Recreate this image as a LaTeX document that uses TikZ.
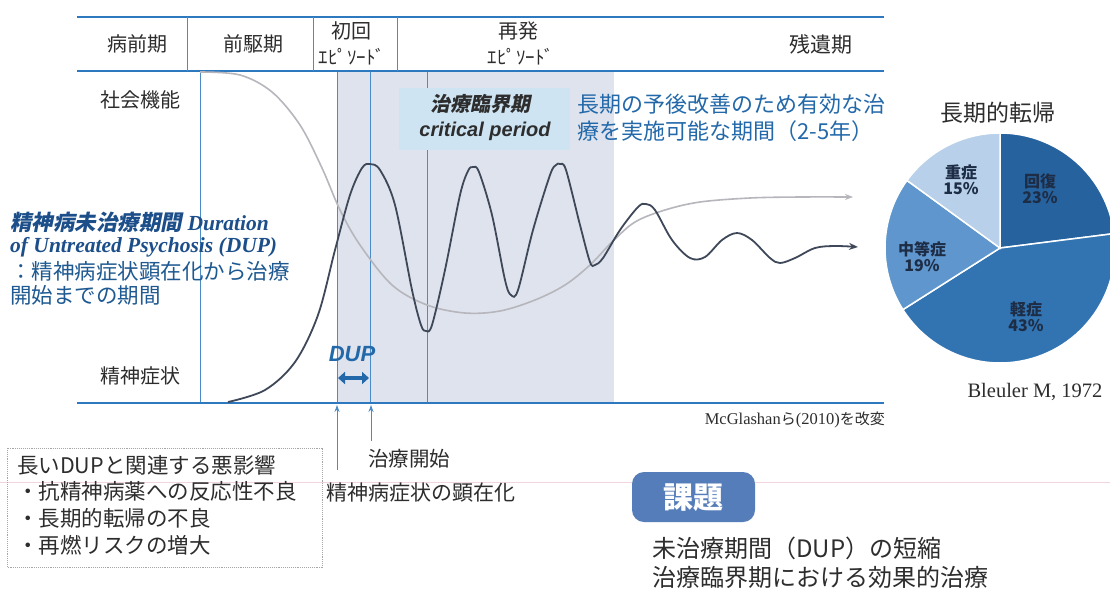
\documentclass[tikz,border=0pt]{standalone}
\usepackage{fontspec}
\setmainfont{Noto Sans CJK JP}
\newfontfamily\jpbi{Noto Sans CJK JP}[FakeSlant=0.2]
\newfontfamily\tms{Liberation Serif}
\newfontfamily\arl{Liberation Sans}
\usetikzlibrary{arrows.meta}
\newcommand\fsz[1]{\fontsize{#1}{#1}\selectfont}
\definecolor{hdr}{RGB}{45,120,190}
\definecolor{vln}{RGB}{75,140,200}
\definecolor{shadecol}{RGB}{223,227,237}
\definecolor{lbox}{RGB}{206,228,243}
\definecolor{txt}{RGB}{45,45,45}
\definecolor{dblue}{RGB}{28,78,138}
\definecolor{mblue}{RGB}{35,105,170}
\definecolor{curveD}{RGB}{62,72,88}
\definecolor{curveG}{RGB}{182,182,188}
\definecolor{kadai}{RGB}{85,125,185}
\definecolor{pA}{RGB}{38,98,158}
\definecolor{pB}{RGB}{50,116,178}
\definecolor{pC}{RGB}{95,150,205}
\definecolor{pD}{RGB}{184,208,233}
\definecolor{pietxt}{RGB}{30,45,70}
\definecolor{pink}{RGB}{242,212,222}
\begin{document}
\begin{tikzpicture}[x=1pt,y=-1pt,
  lab/.style={inner sep=0pt, text=txt, font=\fsz{20}},
  hline/.style={draw=hdr, line width=2.2pt},
  vline/.style={draw=vln, line width=0.9pt},
  divline/.style={draw=vln, line width=0.8pt},
  bluetxt/.style={inner sep=0pt, anchor=west, text=dblue},
  pietext/.style={inner sep=0pt, text=pietxt, font=\fsz{16}\bfseries, align=center},
  wedge/.style={draw=white, line width=1.5pt},
  uparrow/.style={draw=vln, line width=0.9pt, -{Stealth[length=7pt,width=5pt]}}]
\useasboundingbox (0,0) rectangle (1110,595);
\fill[white] (0,0) rectangle (1110,595);
\clip (0,0) rectangle (1110,595);
% faint scan line
\draw[pink, line width=0.6pt] (0,482) -- (1110,482);
% shaded region
\fill[shadecol] (337,71) rectangle (614,403);
% vertical chart lines
\foreach \xx in {200,337,370,427} \draw[vline] (\xx,71) -- (\xx,403);
% label box
\fill[lbox] (399,88) rectangle (570,150);
% header lines
\draw[hline] (77,17) -- (884,17);
\draw[hline] (77,71) -- (884,71);
\draw[hline] (77,403) -- (884,403);
\foreach \xx in {187,313,397} \draw[divline] (\xx,17) -- (\xx,71);
% header labels
\node[lab] (h1) at (137,44) {病前期};
\node[lab] (h2) at (253,44) {前駆期};
\node[lab] (h3) at (351,31) {初回};
\node[lab, font=\fsz{19}] (h3b) at (352,57) {ｴﾋﾟｿｰﾄﾞ};
\node[lab] (h4) at (518,31) {再発};
\node[lab, font=\fsz{19}] (h4b) at (521,57) {ｴﾋﾟｿｰﾄﾞ};
\node[lab, font=\fsz{21}] (h5) at (821,44) {残遺期};
% axis labels
\node[lab] (soc) at (140,100) {社会機能};
\node[lab] (sym) at (140,376) {精神症状};
% curves
\draw[curveG, line width=1.6pt, -{Stealth[length=8pt,width=6pt]}] plot[smooth, tension=0.55] coordinates {
 (200,72) (240,75) (272,92) (300,125) (322,168) (340,210) (360,245) (392,285)
 (427,305) (465,313) (500,311) (535,300) (565,285) (590,265) (612,242) (635,222)
 (665,210) (700,202) (750,198) (800,197) (853,197)};
\draw[curveD, line width=1.8pt, -{Stealth[length=9pt,width=7pt]}] plot[smooth, tension=0.55] coordinates {
 (228,402) (265,390) (295,362) (318,315) (335,250) (350,195) (362,168) (370,164)
 (380,170) (395,205) (412,290) (421,325) (426,331) (432,325) (445,270) (460,195)
 (468,171) (473,167) (479,172) (492,215) (505,280) (511,295) (518,290) (533,230)
 (550,175) (556,165) (560,164) (566,170) (580,225) (590,262) (595,265) (603,258)
 (620,230) (638,207) (646,204) (655,210) (672,240) (690,258) (705,257) (722,240)
 (737,233) (752,240) (770,258) (780,263) (795,258) (815,248) (835,246) (858,247)};
% critical period label
\node[inner sep=0pt, text=txt, font=\fsz{20}\jpbi\bfseries] (cp1) at (480,104) {治療臨界期};
\node[inner sep=0pt, text=txt, font=\fsz{20}\arl\bfseries\itshape] (cp2) at (485,131) {critical period};
\node[bluetxt, text=mblue, font=\fsz{22}] (cp3) at (577,104) {長期の予後改善のため有効な治};
\node[bluetxt, text=mblue, font=\fsz{22}] (cp4) at (577,131) {療を実施可能な期間（2-5年）};
% left blue text
\node[bluetxt, font=\fsz{21.5}] (d1) at (10,222) {{\jpbi\bfseries 精神病未治療期間}{\tms\bfseries\itshape\ Duration}};
\node[bluetxt, font=\fsz{21.5}\tms\bfseries\itshape] (d2) at (10,247) {of Untreated Psychosis (DUP)};
\node[bluetxt, text=mblue!85!black, font=\fsz{21.5}] (d3) at (10,271) {：精神病症状顕在化から治療};
\node[bluetxt, text=mblue!85!black, font=\fsz{21.5}] (d4) at (10,295) {開始までの期間};
% DUP
\node[inner sep=0pt, text=mblue, font=\fsz{22}\arl\bfseries\itshape] (dup) at (352,354) {DUP};
\coordinate (dupL) at (338,378);
\coordinate (dupR) at (369,378);
\draw[mblue, line width=4.5pt, {Triangle[length=7pt,width=12pt]}-{Triangle[length=7pt,width=12pt]}] (dupL) -- (dupR);
% arrows below axis
\coordinate (a1s) at (337,470);
\coordinate (a1e) at (337,405);
\coordinate (a2s) at (371,441);
\coordinate (a2e) at (371,405);
\draw[uparrow] (a1s) -- (a1e);
\draw[uparrow] (a2s) -- (a2e);
\node[lab, font=\fsz{20.5}] (tx1) at (409,459) {治療開始};
\node[lab, font=\fsz{21}, anchor=west] (tx2) at (326,493) {精神病症状の顕在化};
% source
\node[inner sep=0pt, text=txt, font=\fsz{16.5}\tms, anchor=east] (src) at (885,420) {McGlashan{\rmfamily\fsz{15}ら}(2010){\rmfamily\fsz{15}を改変}};
% bottom left box
\draw[gray!70, densely dotted, line width=0.9pt] (7,448) rectangle (322,567);
\node[lab, anchor=west, font=\fsz{21.5}] (b1) at (17,465) {長いDUPと関連する悪影響};
\node[lab, anchor=west, font=\fsz{21.5}] (b2) at (17,491) {・抗精神病薬への反応性不良};
\node[lab, anchor=west, font=\fsz{21.5}] (b3) at (17,518) {・長期的転帰の不良};
\node[lab, anchor=west, font=\fsz{21.5}] (b4) at (17,545) {・再燃リスクの増大};
% kadai
\fill[kadai, rounded corners=12pt] (632,472) rectangle (755,522);
\node[inner sep=0pt, text=white, font=\fsz{30}\bfseries] (kd) at (693,498) {課題};
\node[lab, anchor=west, font=\fsz{24}] (k1) at (652,548) {未治療期間（DUP）の短縮};
\node[lab, anchor=west, font=\fsz{24}] (k2) at (652,577) {治療臨界期における効果的治療};
% pie chart
\node[lab, font=\fsz{23}] (ptitle) at (998,113) {長期的転帰};
\begin{scope}[shift={(1000pt,-248pt)}, y=1pt]
  \filldraw[wedge, fill=pA] (0,0) -- (90:115pt) arc[start angle=90, end angle=7.2, radius=115pt] -- cycle;
  \filldraw[wedge, fill=pB] (0,0) -- (7.2:115pt) arc[start angle=7.2, end angle=-147.6, radius=115pt] -- cycle;
  \filldraw[wedge, fill=pC] (0,0) -- (-147.6:115pt) arc[start angle=-147.6, end angle=-216, radius=115pt] -- cycle;
  \filldraw[wedge, fill=pD] (0,0) -- (144:115pt) arc[start angle=144, end angle=90, radius=115pt] -- cycle;
\end{scope}
\node[pietext] (s1) at (961,180) {重症\\15\%};
\node[pietext] (s2) at (1040,189) {回復\\23\%};
\node[pietext] (s3) at (922,257) {中等症\\19\%};
\node[pietext] (s4) at (1026,317) {軽症\\43\%};
\node[inner sep=0pt, text=txt, font=\fsz{20.5}\tms] (bl) at (1035,392) {Bleuler M, 1972};
\end{tikzpicture}
\end{document}
